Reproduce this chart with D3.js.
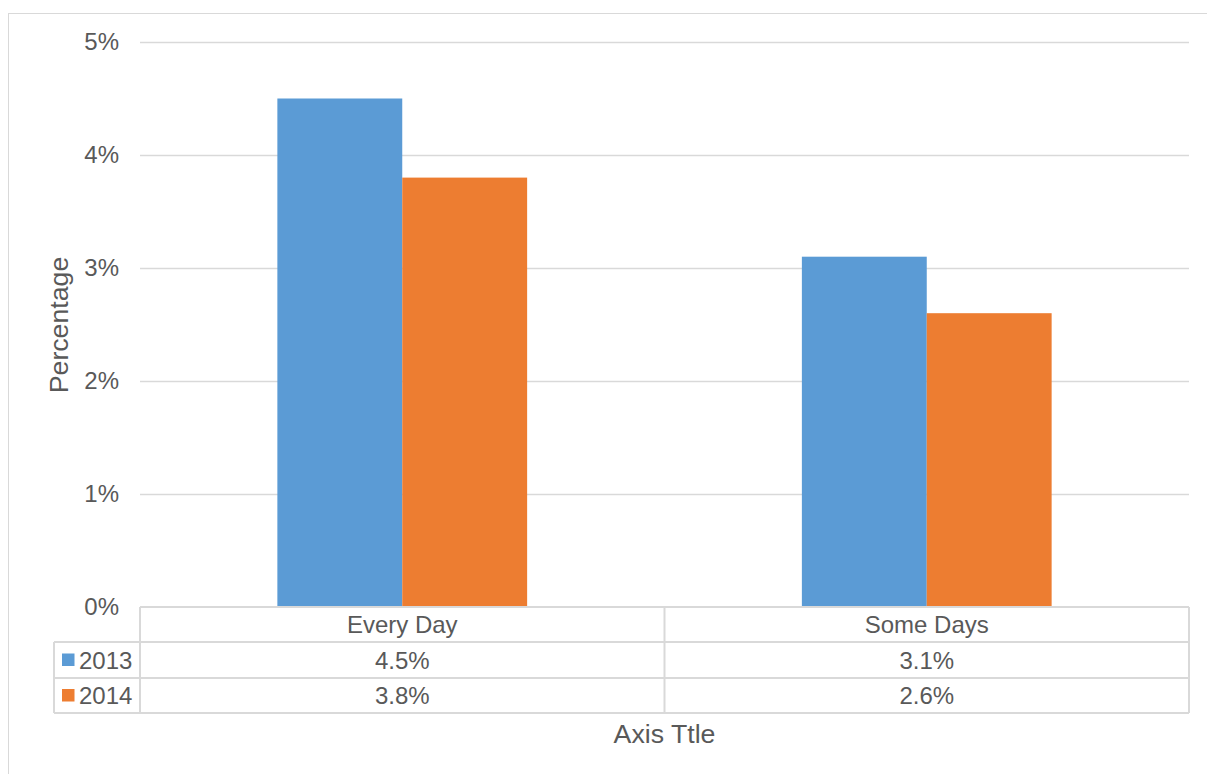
<!DOCTYPE html>
<html><head><meta charset="utf-8">
<script src="https://cdn.jsdelivr.net/npm/d3@7"></script>
<style>body{margin:0;background:#fff}svg{display:block}text{font-family:"Liberation Sans",Arial,sans-serif;fill:#595959}</style>
</head><body><svg id="c" width="1207" height="774"></svg>
<script>
const categories = ["Every Day", "Some Days"];
const seriesNames = ["2013", "2014"];
const values2013 = [4.5, 3.1];
const values2014 = [3.8, 2.6];
const tickValues = [0, 1, 2, 3, 4, 5];
const colors = ["#5b9bd5", "#ed7d31"];
const series = [values2013, values2014];

const svg = d3.select("#c");
const grid = "#d9d9d9";
svg.append("rect").attr("x",8.5).attr("y",13.5).attr("width",1210).attr("height",780).attr("fill","none").attr("stroke",grid).attr("stroke-width",1);

const pLeft = 140, pRight = 1189, pTop = 42, pBottom = 607;
const x = d3.scaleBand().domain(categories).range([pLeft, pRight]);
const y = d3.scaleLinear().domain([0, 5]).range([pBottom, pTop]);
const xs = d3.scaleBand().domain(seriesNames).range([0, x.bandwidth()]).paddingInner(0).paddingOuter(1.1);

svg.append("g").selectAll("line").data(tickValues.filter(d=>d>0)).join("line")
  .attr("x1", pLeft).attr("x2", pRight).attr("y1", d=>y(d)+0.5).attr("y2", d=>y(d)+0.5)
  .attr("stroke", grid).attr("stroke-width", 1.3);

const yAxis = d3.axisLeft(y).tickValues(tickValues).tickFormat(d=>d+"%").tickSize(0).tickPadding(21);
const ya = svg.append("g").attr("transform",`translate(${pLeft},0)`).call(yAxis);
ya.select(".domain").remove();
ya.selectAll("text").style("font-size","24px").style("font-family",'"Liberation Sans",Arial,sans-serif').attr("fill","#595959");

series.forEach((vals, si) => {
  svg.append("g").selectAll("rect").data(vals).join("rect")
    .attr("x", (d,i)=>x(categories[i]) + xs(seriesNames[si]))
    .attr("width", xs.bandwidth())
    .attr("y", d=>y(d)).attr("height", d=>y(0)-y(d))
    .attr("fill", colors[si]);
});

const rowH = [607, 642, 678, 713];
const tLeft = 54;
const tg = svg.append("g").attr("stroke", grid).attr("stroke-width", 2).attr("fill","none");
tg.append("line").attr("x1", pLeft).attr("x2", pRight).attr("y1", rowH[0]).attr("y2", rowH[0]);
[1,2,3].forEach(i => tg.append("line").attr("x1", tLeft).attr("x2", pRight).attr("y1", rowH[i]).attr("y2", rowH[i]));
tg.append("line").attr("x1", tLeft).attr("x2", tLeft).attr("y1", rowH[1]).attr("y2", rowH[3]);
tg.append("line").attr("x1", pLeft).attr("x2", pLeft).attr("y1", rowH[0]).attr("y2", rowH[3]);
categories.forEach(c => {
  const xe = x(c) + x.bandwidth();
  tg.append("line").attr("x1", xe).attr("x2", xe).attr("y1", rowH[0]).attr("y2", rowH[3]);
});

svg.append("g").selectAll("text").data(categories).join("text")
  .attr("x", d=>x(d)+x.bandwidth()/2).attr("y", (rowH[0]+rowH[1])/2+8.5)
  .attr("text-anchor","middle").style("font-size","24px").text(d=>d);

series.forEach((vals, si) => {
  const yc = (rowH[si+1]+rowH[si+2])/2;
  svg.append("rect").attr("x", 62).attr("y", yc-6.5).attr("width", 12.5).attr("height", 12.5).attr("fill", colors[si]);
  svg.append("text").attr("x", 79).attr("y", yc+8.5).style("font-size","24px").text(seriesNames[si]);
  svg.append("g").selectAll("text").data(vals).join("text")
    .attr("x", (d,i)=>x(categories[i])+x.bandwidth()/2).attr("y", yc+8.5)
    .attr("text-anchor","middle").style("font-size","24px").text(d=>d.toFixed(1)+"%");
});

svg.append("text").attr("x", (pLeft+pRight)/2).attr("y", 743).attr("text-anchor","middle").style("font-size","26.7px").text("Axis Ttle");
svg.append("text").attr("transform","translate(68,325) rotate(-90)").attr("text-anchor","middle").style("font-size","26.7px").text("Percentage");
</script></body></html>
